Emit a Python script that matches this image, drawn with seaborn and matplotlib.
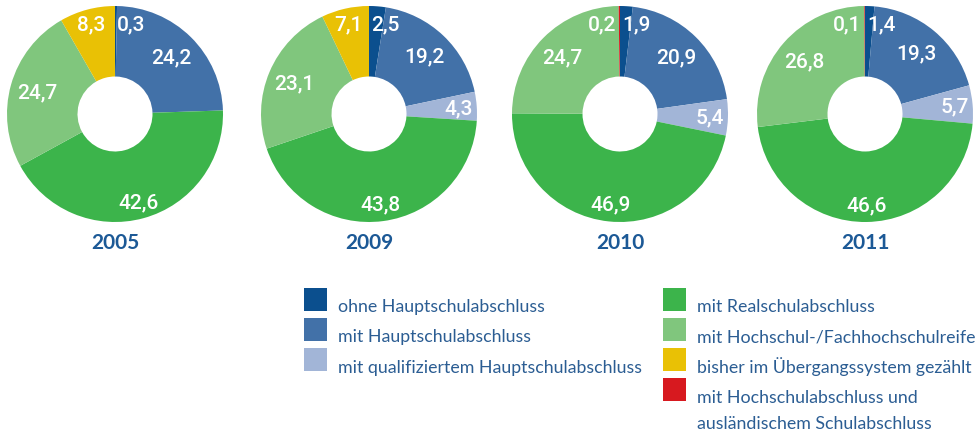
import matplotlib
matplotlib.use("Agg")
import matplotlib.pyplot as plt
import seaborn as sns
import numpy as np
from matplotlib.patches import Rectangle

# ---------------- data ----------------
years = ["2005", "2009", "2010", "2011"]
categories = [
    "ohne Hauptschulabschluss",
    "mit Hauptschulabschluss",
    "mit qualifiziertem Hauptschulabschluss",
    "mit Realschulabschluss",
    "mit Hochschul-/Fachhochschulreife",
    "bisher im Übergangssystem gezählt",
    "mit Hochschulabschluss und\nausländischem Schulabschluss",
]
v2005 = [0.3, 24.2, 0.0, 42.6, 24.7, 8.3, 0.0]
v2009 = [2.5, 19.2, 4.3, 43.8, 23.1, 7.1, 0.0]
v2010 = [1.9, 20.9, 5.4, 46.9, 24.7, 0.0, 0.2]
v2011 = [1.4, 19.3, 5.7, 46.6, 26.8, 0.0, 0.1]
values = [v2005, v2009, v2010, v2011]

# ---------------- style ----------------
sns.set_theme(style="white")
plt.rcParams["font.family"] = ["Lato", "DejaVu Sans"]
palette = sns.color_palette(["#0b4f8e", "#4271a8", "#a2b5d7", "#3cb44b",
                             "#80c67d", "#e9c105", "#d7191f"])
text_blue = "#2b5d93"
year_blue = "#1c5996"

W, H = 978, 435
fig = plt.figure(figsize=(W / 100, H / 100), dpi=100)
ax = fig.add_axes([0, 0, 1, 1])

centers_x = [115, 369, 620, 865]
cy = H - 115
R = 108
hole = 37.5
label_r = [None, 0.74, 0.83, 0.84, 0.75, 0.86, None]
num_font = dict(color="white", fontsize=15, family="Roboto", fontweight="medium")

for cx, year, vals in zip(centers_x, years, values):
    idx = [i for i, v in enumerate(vals) if v > 0]
    vv = [vals[i] for i in idx]
    cols = [palette[i] for i in idx]
    ax.pie(vv, colors=cols, startangle=90, counterclock=False, radius=R,
           center=(cx, cy), frame=False,
           wedgeprops=dict(width=R - hole, linewidth=0))
    total = sum(vv)
    cum = 0.0
    for i, v in zip(idx, vv):
        txt = f"{v:.1f}".replace(".", ",")
        theta = np.deg2rad(360 * (cum + v / 2) / total)
        cum += v
        if label_r[i] is None:
            if i == 0:
                ax.text(cx + 2, cy + 0.835 * R, txt, ha="left", va="center",
                        **num_font)
            else:
                ax.text(cx - 4, cy + 0.835 * R, txt, ha="right", va="center",
                        **num_font)
        else:
            r = label_r[i] * R
            ax.text(cx + r * np.sin(theta), cy + r * np.cos(theta), txt,
                    ha="center", va="center", **num_font)
    ax.text(cx, H - 243, year, ha="center", va="center", color=year_blue,
            fontsize=15, fontweight="bold")

# ---------------- legend ----------------
col_x = [304, 663]
groups = [[0, 1, 2], [3, 4, 5, 6]]
for x0, grp in zip(col_x, groups):
    for row, i in enumerate(grp):
        yc = 300 + 30.3 * row
        ax.add_patch(Rectangle((x0, H - yc - 11.5), 23, 23,
                               facecolor=palette[i], edgecolor="none"))
        for k, line in enumerate(categories[i].split("\n")):
            ax.text(x0 + 34, H - (yc + 12 + 26.5 * k), line, ha="left",
                    va="baseline", color=text_blue, fontsize=12.8)

ax.set_xlim(0, W)
ax.set_ylim(0, H)
ax.set_aspect("auto")
ax.axis("off")
fig.savefig("out.png", dpi=100, facecolor="white")
